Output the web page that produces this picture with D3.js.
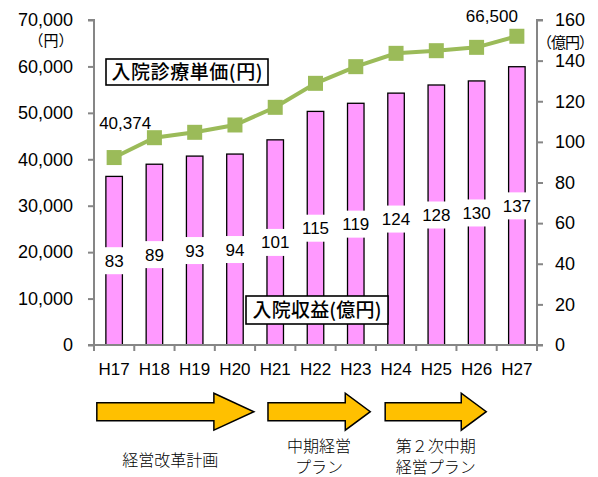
<!DOCTYPE html>
<html>
<head>
<meta charset="utf-8">
<script src="https://cdn.jsdelivr.net/npm/d3@7/dist/d3.min.js"></script>
<style>
  html, body { margin: 0; padding: 0; background: #fff; }
  svg { display: block; }
  .num { font-family: "Liberation Sans", Arial, sans-serif; fill: #000; }
  .jp { font-family: "Noto Sans CJK JP", sans-serif; fill: #000; }
</style>
</head>
<body>
<svg id="chart" width="598" height="477"></svg>
<script>
// Fiscal years (平成)
const categories = ["H17","H18","H19","H20","H21","H22","H23","H24","H25","H26","H27"];
// 入院収益 (億円)
const revenue = [83, 89, 93, 94, 101, 115, 119, 124, 128, 130, 137];
// 入院診療単価 (円)
const unitPrice = [40374, 44650, 45810, 47390, 51190, 56360, 59950, 62820, 63390, 64110, 66500];
// Axis ticks
const leftTicks = [0, 10000, 20000, 30000, 40000, 50000, 60000, 70000];
const rightTicks = [0, 20, 40, 60, 80, 100, 120, 140, 160];
// Plan periods shown under the axis (offsets are fractions of a category band)
const plans = [
  { from: "H17", to: "H20", startOff: 0.07, endOff: -0.03, head: 40, lines: ["経営改革計画"] },
  { from: "H21", to: "H23", startOff: 0.32, endOff: -0.14, head: 25, lines: ["中期経営", "プラン"] },
  { from: "H24", to: "H26", startOff: 0.23, endOff: -0.26, head: 25, lines: ["第２次中期", "経営プラン"] }
];

const svg = d3.select("#chart");
const plotL = 94, plotR = 537, plotT = 20, plotB = 345;

const x = d3.scaleBand().domain(categories).range([plotL, plotR]).paddingInner(0).paddingOuter(0);
const yL = d3.scaleLinear().domain([0, 70000]).range([plotB, plotT]);
const yR = d3.scaleLinear().domain([0, 160]).range([plotB, plotT]);
const bw = x.bandwidth();
const barW = bw * 0.41;

// Bars
svg.append("g").selectAll("rect").data(categories).join("rect")
  .attr("x", (c) => x(c) + bw / 2 - barW / 2)
  .attr("y", (c, i) => yR(revenue[i]))
  .attr("width", barW)
  .attr("height", (c, i) => plotB - yR(revenue[i]))
  .attr("fill", "#FF99FF")
  .attr("stroke", "#000")
  .attr("stroke-width", 1.3);

// Bar value labels on white boxes
const bl = svg.append("g");
categories.forEach((c, i) => {
  const cx = x(c) + bw / 2;
  const cy = (yR(revenue[i]) + plotB) / 2;
  const g = bl.append("g");
  const t = g.append("text").attr("class", "num")
    .attr("x", cx).attr("y", cy + 6)
    .attr("text-anchor", "middle").attr("font-size", 17)
    .text(revenue[i]);
  const w = t.node().getComputedTextLength();
  g.insert("rect", "text")
    .attr("x", cx - Math.max(w + 6, barW + 4) / 2).attr("y", cy - 13.5)
    .attr("width", Math.max(w + 6, barW + 4)).attr("height", 27)
    .attr("fill", "#fff");
});

// Axes
const axisColor = "#868686";
const gL = svg.append("g").attr("transform", `translate(${plotL},0)`)
  .call(d3.axisLeft(yL).tickValues(leftTicks).tickFormat(d3.format(",")).tickSize(6).tickPadding(15));
const gR = svg.append("g").attr("transform", `translate(${plotR},0)`)
  .call(d3.axisRight(yR).tickValues(rightTicks).tickSize(6).tickPadding(12));
[gL, gR].forEach((g) => {
  const s = g === gL ? -6 : 6;
  g.select(".domain").attr("stroke", axisColor).attr("stroke-width", 2)
    .attr("d", `M${s},${plotT}H0V${plotB}H${s}`);
  g.selectAll(".tick line").attr("stroke", axisColor).attr("stroke-width", 2);
  g.selectAll(".tick text").attr("class", "num").attr("font-size", 18).attr("fill", "#000");
});

// Category axis
const gx = svg.append("g");
gx.append("line").attr("x1", plotL).attr("x2", plotR).attr("y1", plotB).attr("y2", plotB)
  .attr("stroke", axisColor).attr("stroke-width", 2);
categories.concat([null]).forEach((c) => {
  const px = c === null ? plotR : x(c);
  gx.append("line").attr("x1", px).attr("x2", px).attr("y1", plotB).attr("y2", plotB + 6)
    .attr("stroke", axisColor).attr("stroke-width", 2);
});
gx.selectAll("text.cat").data(categories).join("text")
  .attr("class", "num cat")
  .attr("x", (c) => x(c) + bw / 2).attr("y", plotB + 30)
  .attr("text-anchor", "middle").attr("font-size", 17)
  .text((c) => c);

// Unit labels
svg.append("text").attr("class", "jp").attr("x", 51).attr("y", 46)
  .attr("text-anchor", "middle").attr("font-size", 15)
  .text("（円）");
svg.append("text").attr("class", "jp").attr("x", 565).attr("y", 48)
  .attr("text-anchor", "middle").attr("font-size", 15).attr("letter-spacing", -1)
  .text("（億円）");

// Unit price line
const line = d3.line()
  .x((d, i) => x(categories[i]) + bw / 2)
  .y((d) => yL(d));
svg.append("path").datum(unitPrice).attr("d", line)
  .attr("fill", "none").attr("stroke", "#9BBB59").attr("stroke-width", 4);
svg.append("g").selectAll("rect").data(unitPrice).join("rect")
  .attr("x", (d, i) => x(categories[i]) + bw / 2 - 7.5)
  .attr("y", (d) => yL(d) - 7.5)
  .attr("width", 15).attr("height", 15)
  .attr("fill", "#9BBB59");

// First and last price labels
const fmt = d3.format(",");
const first = 0, last = unitPrice.length - 1;
svg.append("text").attr("class", "num").attr("font-size", 17).attr("text-anchor", "middle")
  .attr("x", x(categories[first]) + bw / 2 + 11).attr("y", yL(unitPrice[first]) - 29)
  .text(fmt(unitPrice[first]));
svg.append("text").attr("class", "num").attr("font-size", 17).attr("text-anchor", "middle")
  .attr("x", x(categories[last]) + bw / 2 - 25).attr("y", yL(unitPrice[last]) - 14)
  .text(fmt(unitPrice[last]));

// Series name boxes
function nameBox(bx, by, w, h, label, textW) {
  svg.append("rect").attr("x", bx).attr("y", by).attr("width", w).attr("height", h)
    .attr("fill", "#fff").attr("stroke", "#000").attr("stroke-width", 1.6);
  svg.append("text").attr("class", "jp").attr("x", bx + w / 2).attr("y", by + h / 2 + 7)
    .attr("text-anchor", "middle").attr("font-size", 19).attr("font-weight", 500)
    .attr("textLength", textW).attr("lengthAdjust", "spacing").text(label);
}
nameBox(106, 59, 162, 26, "入院診療単価(円)", 151);
nameBox(246, 296, 142, 28, "入院収益(億円)", 129);

// Plan arrows
const ay = 411.7, bodyH = 18, headH = 37;
plans.forEach((p) => {
  const x0 = x(p.from) + p.startOff * bw;
  const x1 = x(p.to) + bw + p.endOff * bw;
  const hx = x1 - p.head;
  const pts = [
    [x0, ay - bodyH / 2], [hx, ay - bodyH / 2], [hx, ay - headH / 2], [x1, ay],
    [hx, ay + headH / 2], [hx, ay + bodyH / 2], [x0, ay + bodyH / 2]
  ];
  svg.append("path").attr("d", d3.line()(pts) + "Z")
    .attr("fill", "#FFC000").attr("stroke", "#000").attr("stroke-width", 1.5)
    .attr("stroke-linejoin", "miter");
  const cx = (x0 + x1) / 2 - (p.lines.length === 1 ? 5 : 0);
  p.lines.forEach((ln, j) => {
    svg.append("text").attr("class", "jp").attr("font-size", 16).attr("font-weight", 300)
      .attr("text-anchor", "middle")
      .attr("x", cx).attr("y", (p.lines.length === 1 ? 466 : 452) + j * 20.5)
      .text(ln);
  });
});
</script>
</body>
</html>
